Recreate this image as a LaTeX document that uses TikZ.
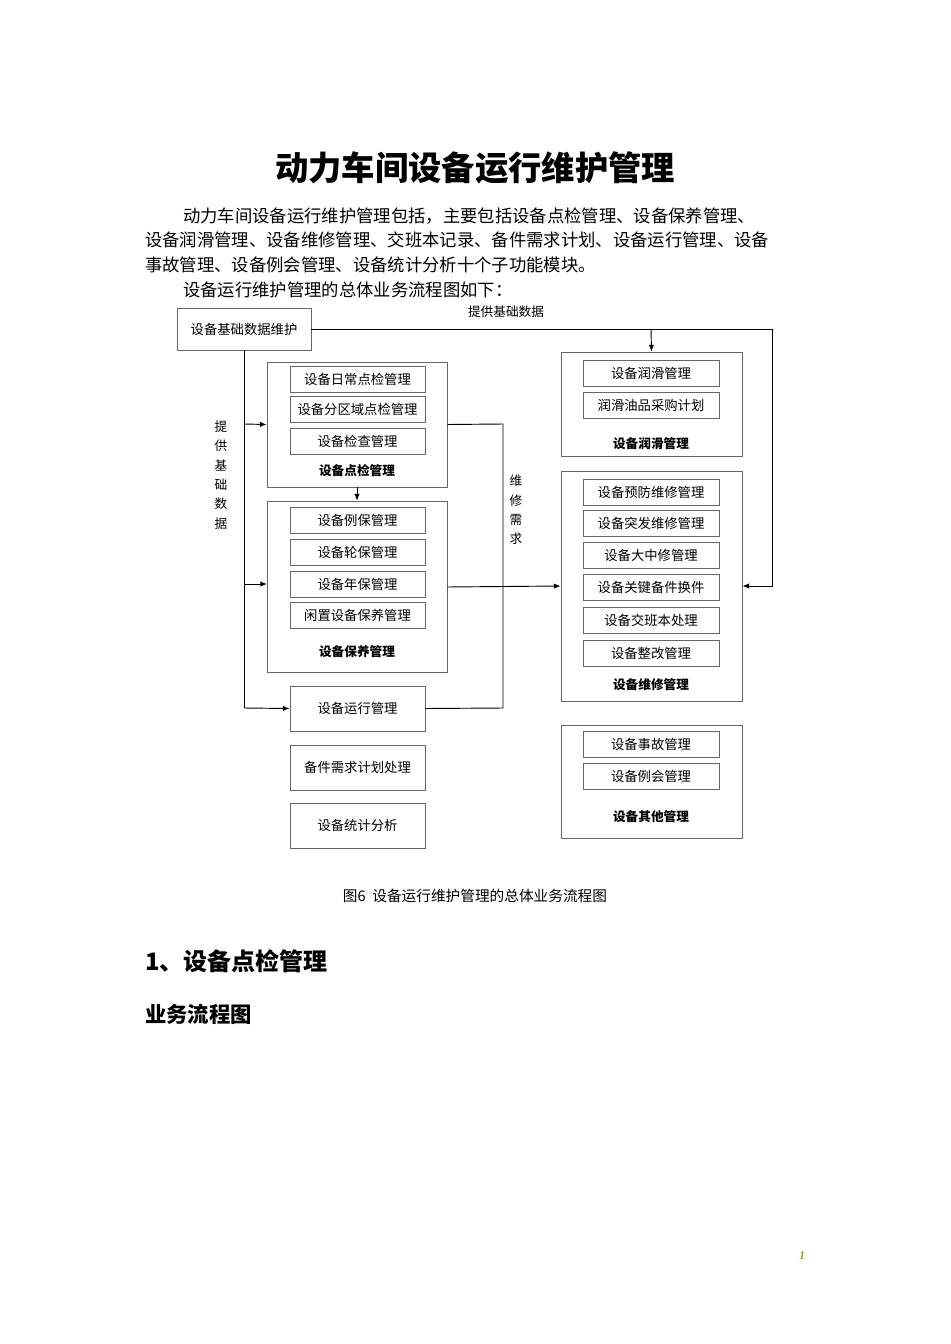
\documentclass[tikz,border=0pt]{standalone}
\usepackage{fontspec}
\setmainfont{Liberation Serif}
\newfontfamily\cjk{Noto Sans CJK SC}
\usetikzlibrary{arrows.meta}
\begin{document}
\begin{tikzpicture}[x=0.75pt,y=-0.75pt,
  grp/.style={draw=black!60,line width=0.6pt},
  inbox/.style={draw=black!60,line width=0.6pt,font=\cjk\fontsize{10}{12}\selectfont,inner sep=0pt},
  glab/.style={font=\cjk\bfseries\fontsize{9.5}{11}\selectfont},
  para/.style={font=\cjk\fontsize{13}{15}\selectfont,anchor=west,inner sep=0pt},
  con/.style={line width=0.7pt},
  arr/.style={con,-{Latex[length=5pt,width=4pt]}}]
\useasboundingbox (0,0) rectangle (950,1344);
\node[font=\cjk\bfseries\fontsize{25}{28}\selectfont] (title) at (475,168) {动力车间设备运行维护管理};
\node[para] (p1) at (183,216) {动力车间设备运行维护管理包括，主要包括设备点检管理、设备保养管理、};
\node[para] (p2) at (145,240) {设备润滑管理、设备维修管理、交班本记录、备件需求计划、设备运行管理、设备};
\node[para] (p3) at (145,265) {事故管理、设备例会管理、设备统计分析十个子功能模块。};
\node[para] (p4) at (183,290) {设备运行维护管理的总体业务流程图如下：};
% top box
\node[inbox,minimum width=134pt*0.75,minimum height=42*0.75pt] (base) at (244,329) {设备基础数据维护};
% groups
\node[grp,minimum width=180*0.75pt,minimum height=125*0.75pt] (gdj) at (357,424.5) {};
\node[grp,minimum width=180*0.75pt,minimum height=171*0.75pt] (gby) at (357,586.5) {};
\node[grp,minimum width=181*0.75pt,minimum height=104*0.75pt] (grh) at (651.5,404) {};
\node[grp,minimum width=181*0.75pt,minimum height=230*0.75pt] (gwx) at (651.5,586) {};
\node[grp,minimum width=181*0.75pt,minimum height=113*0.75pt] (gqt) at (651.5,781.5) {};
\foreach \n/\y/\t in {a1/379/设备日常点检管理,a2/409/设备分区域点检管理,a3/441.5/设备检查管理,
  b1/520/设备例保管理,b2/552/设备轮保管理,b3/584/设备年保管理,b4/615.5/闲置设备保养管理}
  \node[inbox,minimum width=135*0.75pt,minimum height=26*0.75pt] (\n) at (357.5,\y) {\t};
\node[inbox,minimum width=135*0.75pt,minimum height=45*0.75pt] (run) at (357.5,708.5) {设备运行管理};
\node[inbox,minimum width=135*0.75pt,minimum height=45*0.75pt] (bj) at (357.5,767.5) {备件需求计划处理};
\node[inbox,minimum width=135*0.75pt,minimum height=45*0.75pt] (tj) at (357.5,825.5) {设备统计分析};
\foreach \n/\y/\t in {r1/373/设备润滑管理,r2/405/润滑油品采购计划,
  w1/492/设备预防维修管理,w2/523/设备突发维修管理,w3/555/设备大中修管理,w4/587/设备关键备件换件,w5/620/设备交班本处理,w6/653/设备整改管理,
  q1/744/设备事故管理,q2/776/设备例会管理}
  \node[inbox,minimum width=136*0.75pt,minimum height=26*0.75pt] (\n) at (651,\y) {\t};
\node[glab] (l1) at (357,471) {设备点检管理};
\node[glab] (l2) at (357,652) {设备保养管理};
\node[glab] (l3) at (651,444) {设备润滑管理};
\node[glab] (l4) at (651,685) {设备维修管理};
\node[glab] (l5) at (651,817) {设备其他管理};
% connectors
\coordinate (c1) at (772,329);
\draw[arr] (base.east) -- (c1) |- (gwx.east);
\draw[arr] (651,329) -- (grh.north);
\node[font=\cjk\fontsize{9.5}{11}\selectfont] (t1) at (506,312) {提供基础数据};
\draw[con] (base.south) -- (244,708);
\draw[arr] (244,424) -- (gdj.west);
\draw[arr] (244,584) -- (267,584);
\draw[arr] (244,708) -- (run.west);
\node[font=\cjk\fontsize{9.5}{14.5}\selectfont,align=center] (t2) at (221,475) {提\\供\\基\\础\\数\\据};
\draw[arr] (gdj.south) -- (gby.north);
\draw[con] (gdj.east) -- (503,424) -- (503,708) -- (run.east);
\draw[arr] (447,587) -- (gwx.west);
\node[font=\cjk\fontsize{9.5}{14.5}\selectfont,align=center] (t3) at (516,510) {维\\修\\需\\求};
\node[font=\cjk\fontsize{11}{13}\selectfont] (cap) at (475,896) {图6\ \ 设备运行维护管理的总体业务流程图};
\node[font=\cjk\bfseries\fontsize{18}{20}\selectfont,anchor=west,inner sep=0pt] (h1) at (145,961) {1、设备点检管理};
\node[font=\cjk\bfseries\fontsize{16}{18}\selectfont,anchor=west,inner sep=0pt] (h2) at (145,1014) {业务流程图};
\node[font=\bfseries\itshape\fontsize{9}{10}\selectfont,text={rgb,255:red,150;green,160;blue,40}] (pg) at (802,1256) {1};
\end{tikzpicture}
\end{document}
